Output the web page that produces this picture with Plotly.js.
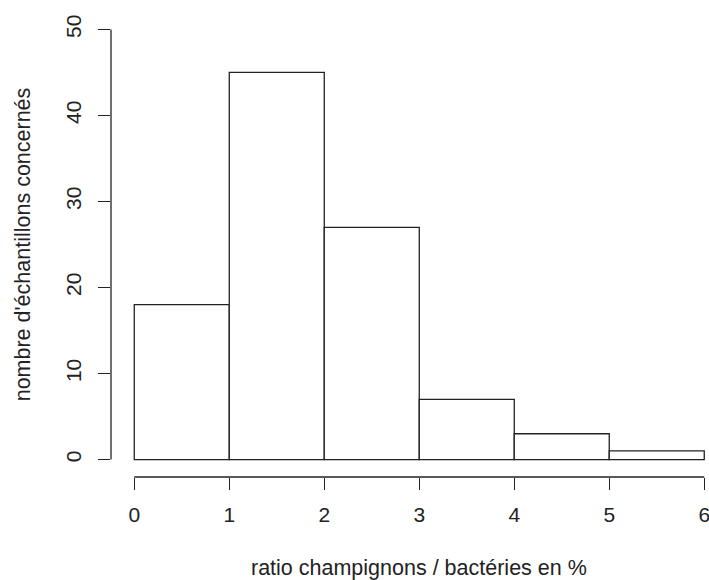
<!DOCTYPE html>
<html>
<head>
<meta charset="utf-8">
<script src="https://cdn.plot.ly/plotly-3.0.1.min.js"></script>
<style>html,body{margin:0;padding:0;background:#fff;}</style>
</head>
<body>
<div id="chart" style="width:709px;height:580px;"></div>
<script>
// Histogram data: bin edges and counts
const binEdges = [0, 1, 2, 3, 4, 5, 6];
const counts = [18, 45, 27, 7, 3, 1];
const xTicks = [0, 1, 2, 3, 4, 5, 6];
const yTicks = [0, 10, 20, 30, 40, 50];
const xTitle = "ratio champignons / bactéries en %";
const yTitle = "nombre d'échantillons concernés";

const centers = counts.map((_, i) => (binEdges[i] + binEdges[i + 1]) / 2);
const widths = counts.map((_, i) => binEdges[i + 1] - binEdges[i]);

const ink = '#222';
const fontFam = '"Liberation Sans", Arial, sans-serif';

const trace = {
  type: 'bar',
  x: centers,
  y: counts,
  width: widths,
  marker: { color: '#ffffff', line: { color: ink, width: 1.3 } },
  hoverinfo: 'skip'
};

const layout = {
  width: 709,
  height: 580,
  margin: { l: 111, r: 0, t: 12, b: 103, pad: 0 },
  paper_bgcolor: '#fff',
  plot_bgcolor: '#fff',
  showlegend: false,
  font: { family: fontFam, size: 21, color: ink },
  xaxis: {
    range: [-0.245, 6.05],
    tickvals: xTicks,
    ticktext: xTicks.map(String),
    ticks: 'outside',
    ticklen: 12,
    tickwidth: 1.3,
    tickcolor: ink,
    showgrid: false,
    zeroline: false,
    showline: false,
    ticklabeloverflow: 'allow',
    ticklabelstandoff: 7,
    tickfont: { family: fontFam, size: 21, color: ink }
  },
  yaxis: {
    range: [-2.03, 52.03],
    tickvals: yTicks,
    ticktext: yTicks.map(String),
    tickangle: -90,
    ticks: 'outside',
    ticklen: 12,
    tickwidth: 1.3,
    tickcolor: ink,
    showgrid: false,
    zeroline: false,
    showline: false,
    ticklabelstandoff: 9,
    tickfont: { family: fontFam, size: 21, color: ink },
    title: { text: yTitle, font: { family: fontFam, size: 21.5, color: ink }, standoff: 25 }
  },
  annotations: [
    { text: xTitle, xref: 'paper', yref: 'paper', x: 0.515, y: 0,
      xanchor: 'center', yanchor: 'middle', yshift: -91, showarrow: false,
      font: { family: fontFam, size: 21.5, color: ink } }
  ],
  shapes: [
    { type: 'line', xref: 'paper', yref: 'y', x0: 0, x1: 0,
      y0: yTicks[0], y1: yTicks[yTicks.length - 1], line: { color: ink, width: 1.3 } },
    { type: 'line', xref: 'x', yref: 'paper', y0: 0, y1: 0,
      x0: xTicks[0], x1: xTicks[xTicks.length - 1], line: { color: ink, width: 1.3 } }
  ]
};

Plotly.newPlot('chart', [trace], layout, { staticPlot: true, displayModeBar: false });
</script>
</body>
</html>
